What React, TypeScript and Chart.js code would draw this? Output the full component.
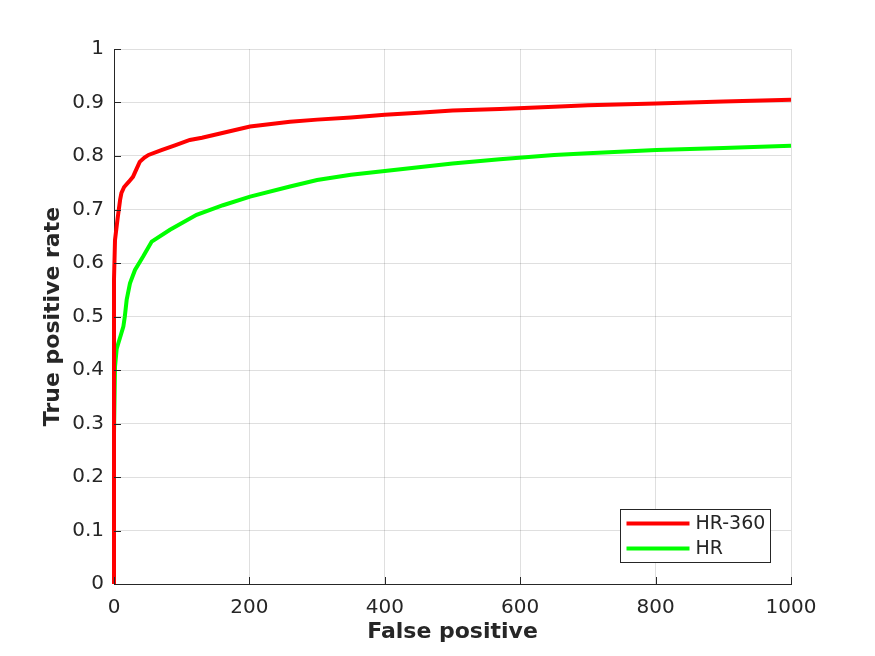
import React, { useEffect, useRef } from "react";
import { Chart, registerables } from "chart.js";

Chart.register(...registerables);

const hr360Fp = [0, 0, 0, 1.5, 5, 9, 11, 15, 22, 28, 33, 38, 45, 51, 70, 90, 112, 130, 160, 201, 260, 300, 350, 400, 450, 500, 570, 650, 700, 801, 900, 1000];
const hr360Tp = [0, 0.28, 0.57, 0.643, 0.68, 0.718, 0.731, 0.742, 0.752, 0.761, 0.775, 0.789, 0.797, 0.802, 0.811, 0.82, 0.83, 0.834, 0.843, 0.855, 0.864, 0.868, 0.872, 0.877, 0.881, 0.885, 0.888, 0.892, 0.895, 0.898, 0.902, 0.905];

const hrFp = [0, 0, 1.5, 4, 6.4, 10, 13.8, 16, 18.7, 23.6, 31, 43, 55.7, 82.7, 122, 161, 201, 260, 300, 350, 400, 450, 500, 570, 650, 700, 801, 900, 1000];
const hrTp = [0, 0.282, 0.406, 0.44, 0.45, 0.465, 0.481, 0.5, 0.531, 0.562, 0.587, 0.612, 0.64, 0.662, 0.69, 0.708, 0.724, 0.743, 0.755, 0.765, 0.772, 0.779, 0.786, 0.794, 0.802, 0.805, 0.811, 0.815, 0.819];

const seriesLabels = ["HR-360", "HR"];
const seriesColors = ["#ff0000", "#00ff00"];
const xTitle = "False positive";
const yTitle = "True positive rate";

const FONT = "'DejaVu Sans', sans-serif";
const AXIS = "#262626";

const zip = (xs: number[], ys: number[]) => xs.map((x, i) => ({ x, y: ys[i] }));

const innerTicks = {
  id: "innerTicks",
  afterDatasetsDraw(chart: any) {
    const { ctx, chartArea } = chart;
    const xs = chart.scales.x;
    const ys = chart.scales.y;
    ctx.save();
    ctx.strokeStyle = AXIS;
    ctx.lineWidth = 1;
    xs.ticks.forEach((t: any) => {
      const px = Math.round(xs.getPixelForValue(t.value)) + 0.5;
      ctx.beginPath();
      ctx.moveTo(px, chartArea.bottom);
      ctx.lineTo(px, chartArea.bottom - 7);
      ctx.stroke();
    });
    ys.ticks.forEach((t: any) => {
      const py = Math.round(ys.getPixelForValue(t.value)) + 0.5;
      ctx.beginPath();
      ctx.moveTo(chartArea.left, py);
      ctx.lineTo(chartArea.left + 7, py);
      ctx.stroke();
    });
    ctx.restore();
  },
};

const boxLegend = {
  id: "boxLegend",
  afterDraw(chart: any) {
    const { ctx, chartArea } = chart;
    const w = 150;
    const h = 53;
    const x0 = chartArea.right - 170.5;
    const y0 = chartArea.bottom - 74.5;
    ctx.save();
    ctx.fillStyle = "#ffffff";
    ctx.fillRect(x0, y0, w, h);
    ctx.strokeStyle = AXIS;
    ctx.lineWidth = 1;
    ctx.strokeRect(x0, y0, w, h);
    chart.data.datasets.forEach((ds: any, i: number) => {
      const ly = y0 + 14 + i * 25;
      ctx.strokeStyle = ds.borderColor;
      ctx.lineWidth = 4;
      ctx.beginPath();
      ctx.moveTo(x0 + 6, ly);
      ctx.lineTo(x0 + 69, ly);
      ctx.stroke();
      ctx.fillStyle = AXIS;
      ctx.font = `19px ${FONT}`;
      ctx.textBaseline = "middle";
      ctx.textAlign = "left";
      ctx.fillText(ds.label, x0 + 75, ly + 1);
    });
    ctx.restore();
  },
};

export default function App() {
  const ref = useRef<HTMLCanvasElement>(null);
  useEffect(() => {
    document.body.style.margin = "0";
    const chart = new Chart(ref.current!, {
      type: "scatter",
      data: {
        datasets: [
          {
            label: seriesLabels[0],
            data: zip(hr360Fp, hr360Tp),
            showLine: true,
            borderColor: seriesColors[0],
            backgroundColor: seriesColors[0],
            borderWidth: 4,
            pointRadius: 0,
            tension: 0,
            clip: 4,
          },
          {
            label: seriesLabels[1],
            data: zip(hrFp, hrTp),
            showLine: true,
            borderColor: seriesColors[1],
            backgroundColor: seriesColors[1],
            borderWidth: 4,
            pointRadius: 0,
            tension: 0,
            clip: 4,
          },
        ],
      },
      options: {
        responsive: false,
        animation: false,
        layout: { padding: { left: 0, right: 84, top: 49, bottom: 0 } },
        plugins: { legend: { display: false }, tooltip: { enabled: false } },
        scales: {
          x: {
            type: "linear",
            min: 0,
            max: 1000,
            afterFit: (s: any) => { s.height = 72; },
            ticks: { stepSize: 200, color: AXIS, padding: 12, font: { family: FONT, size: 20 }, maxRotation: 0, callback: (v: any) => String(Math.round(Number(v))) },
            grid: { color: "rgba(38,38,38,0.15)", drawTicks: false },
            border: { display: true, color: AXIS, width: 1 },
            title: { display: true, text: xTitle, color: AXIS, font: { family: FONT, size: 22, weight: "bold" }, padding: { top: 0, bottom: 11 } },
          },
          y: {
            type: "linear",
            min: 0,
            max: 1,
            afterFit: (s: any) => { s.width = 114; },
            ticks: { stepSize: 0.1, color: AXIS, padding: 10, font: { family: FONT, size: 20 }, callback: (v: any) => String(Math.round(Number(v) * 10) / 10) },
            grid: { color: "rgba(38,38,38,0.15)", drawTicks: false },
            border: { display: true, color: AXIS, width: 1 },
            title: { display: true, text: yTitle, color: AXIS, font: { family: FONT, size: 22, weight: "bold" }, padding: { top: 40, bottom: 0 } },
          },
        },
      },
      plugins: [innerTicks, boxLegend],
    });
    return () => chart.destroy();
  }, []);
  return <canvas ref={ref} width={875} height={656} style={{ display: "block" }} />;
}
